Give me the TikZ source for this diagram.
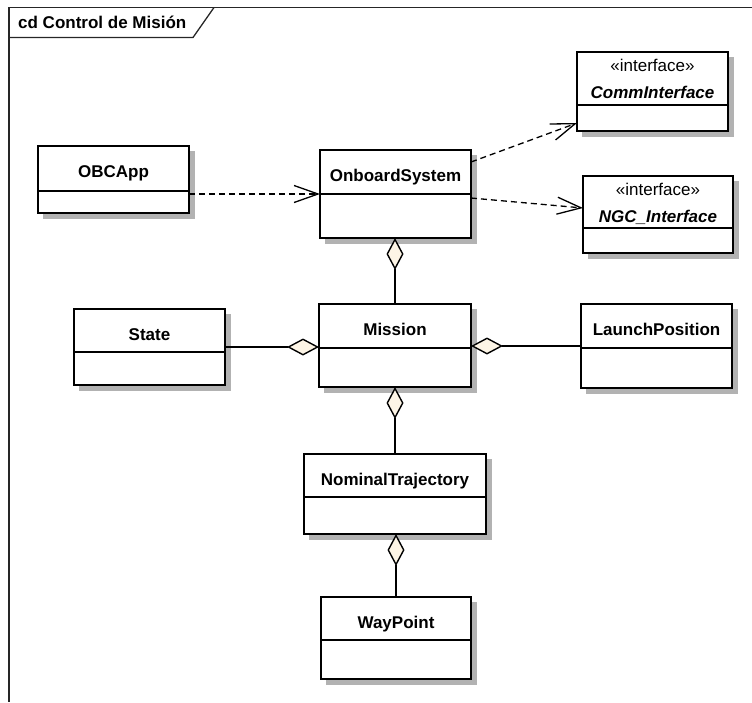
\documentclass[tikz,border=0pt]{standalone}
\usepackage{fontspec}
\setmainfont{Liberation Sans}
\usetikzlibrary{arrows.meta,calc}
\definecolor{aggfill}{RGB}{253,245,230}
\definecolor{shadowgrey}{RGB}{178,178,178}

% class box: name, x1, y1, x2, y2, y of the compartment rule
\newcommand\umlclass[6]{%
  \node[box,anchor=north west,minimum width={(#4-#2)*1pt},minimum height={(#5-#3)*1pt}] (#1) at (#2,#3) {};
  \draw[compartment] (#2,#6) -- (#4,#6);
  % drop shadow along the right and bottom sides
  \fill[shadowgrey] ($(#1.north east)+(0.8,5)$) rectangle ($(#1.south east)+(5.5,5.5)$);
  \fill[shadowgrey] ($(#1.south west)+(5,0.8)$) rectangle ($(#1.south east)+(5.5,5.5)$);
}

\begin{document}
\begin{tikzpicture}[x=1pt,y=-1pt,
  box/.style={draw=black,line width=1.5pt,fill=white,inner sep=0pt,outer sep=0pt},
  compartment/.style={line width=1.5pt},
  classname/.style={font=\bfseries\fontsize{17}{19}\selectfont,inner sep=0pt,anchor=base},
  stereo/.style={font=\fontsize{17}{19}\selectfont,inner sep=0pt,anchor=base},
  ifname/.style={font=\bfseries\itshape\fontsize{17}{19}\selectfont,inner sep=0pt,anchor=base},
  dep/.style={line width=1.3pt,dash pattern=on 6pt off 4pt,-{Straight Barb[length=24pt,width=17pt]}},
  agg/.style={line width=1.4pt,-{Diamond[length=32pt,width=17pt,fill=aggfill]}},
  frameline/.style={line width=1.3pt,draw=black!85}]

\useasboundingbox (0,0) rectangle (752,702);

% diagram frame and its name tab
\draw[frameline] (752,7.5) -- (9,7.5) -- (9,702);
\draw[frameline] (9,37.5) -- (193,37.5) -- (214,7.5);
\node[font=\bfseries\fontsize{17}{19}\selectfont,anchor=base west,inner sep=0pt] (title) at (18,28.5) {cd Control de Misión};

% classes
\umlclass{obcapp}{38}{146}{189}{213}{191}
\umlclass{onboard}{320}{150}{471}{238}{194}
\umlclass{comm}{577}{52}{728}{131}{105}
\umlclass{ngc}{583}{176}{733}{253}{228}
\umlclass{state}{74}{309}{225}{385}{352}
\umlclass{mission}{319}{304}{471}{387}{348}
\umlclass{launch}{581}{304}{732}{388}{348}
\umlclass{nominal}{304}{454}{486}{534}{497}
\umlclass{waypoint}{321}{597}{471}{679}{640}

% class names
\node[classname] (obcapp-name) at (113.5,177.5) {OBCApp};
\node[classname] (onboard-name) at (395.5,181) {OnboardSystem};
\node[classname] (state-name) at (149.5,340) {State};
\node[classname] (mission-name) at (395,335) {Mission};
\node[classname] (launch-name) at (656.5,335) {LaunchPosition};
\node[classname] (nominal-name) at (395,485) {NominalTrajectory};
\node[classname] (waypoint-name) at (396,628) {WayPoint};
\node[stereo] (comm-stereo) at (652.5,71) {«interface»};
\node[ifname] (comm-name) at (652.5,98) {CommInterface};
\node[stereo] (ngc-stereo) at (658,195) {«interface»};
\node[ifname] (ngc-name) at (658,222) {NGC\_Interface};

% dependencies
\draw[dep] (obcapp.east |- onboard.west) -- (onboard.west);
\draw[dep] ($(onboard.north east)+(0,12)$) -- ($(comm.south west)+(0,-8)$);
\draw[dep] ($(onboard.east)+(0,4)$) -- ($(ngc.north west)+(0,32)$);

% aggregations
\draw[agg] (mission.north) -- (mission.north |- onboard.south);
\draw[agg] (state.east) -- (state.east -| mission.west);
\draw[agg] (launch.west) -- (launch.west -| mission.east);
\draw[agg] (nominal.north) -- (nominal.north |- mission.south);
\draw[agg] (waypoint.north) -- (waypoint.north |- nominal.south);
\end{tikzpicture}
\end{document}
